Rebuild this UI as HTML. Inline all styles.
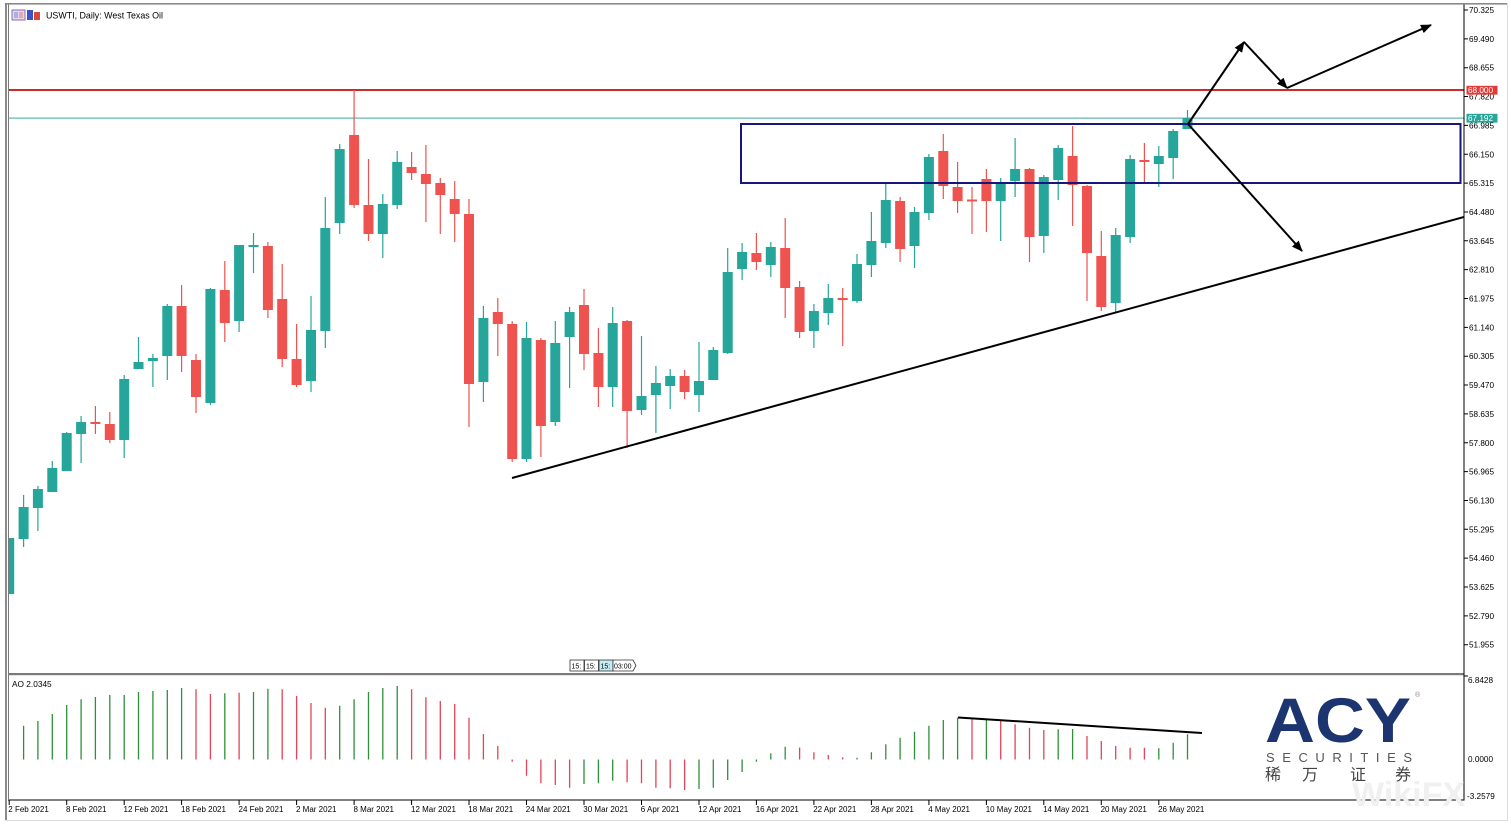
<!DOCTYPE html>
<html><head><meta charset="utf-8"><style>
html,body{margin:0;padding:0;background:#fff;}
svg{display:block;}
text{font-family:"Liberation Sans",sans-serif;}
</style></head><body>
<svg width="1511" height="824" viewBox="0 0 1511 824" xmlns="http://www.w3.org/2000/svg">
<defs>
<clipPath id="pc"><rect x="9" y="5" width="1455" height="668"/></clipPath>
<marker id="ah" markerWidth="11" markerHeight="9" refX="10" refY="4.5" orient="auto" markerUnits="userSpaceOnUse"><path d="M0,0 L11,4.5 L0,9 z" fill="#000"/></marker>
</defs>
<rect width="1511" height="824" fill="#fff"/>
<!-- frame -->
<rect x="5" y="3" width="1503" height="1.6" fill="#8a8a8a"/>
<rect x="5" y="3" width="2" height="818" fill="#8a8a8a"/>
<rect x="8" y="4" width="1" height="797" fill="#7a7a7a"/>
<rect x="1507" y="3" width="1" height="818" fill="#dcdcdc"/>
<rect x="5" y="820" width="1503" height="1" fill="#dcdcdc"/>

<!-- title -->
<rect x="12" y="10" width="13" height="10" fill="#e9d6ea" stroke="#8a6fb0" stroke-width="1"/>
<rect x="14" y="12" width="4" height="6" fill="#9fb3e8"/><rect x="19" y="12" width="4" height="6" fill="#e6a7b8"/>
<rect x="27" y="10" width="6" height="10" fill="#3b53c9"/><rect x="34" y="12" width="6" height="8" fill="#d9473a"/>
<text x="46" y="18.3" font-size="9" fill="#000" textLength="117" lengthAdjust="spacingAndGlyphs">USWTI, Daily:  West Texas Oil</text>

<!-- horizontal levels -->
<rect x="9" y="89" width="1455" height="2" fill="#cc2b2b"/>
<rect x="9" y="117.6" width="1455" height="1" fill="#3aa99e"/>

<g clip-path="url(#pc)">
<g fill="#26a69a">
<rect x="8.6" y="538" width="1.2" height="56"/><rect x="4.2" y="538" width="10" height="56"/>
<rect x="23.0" y="495" width="1.2" height="52"/><rect x="18.6" y="507" width="10" height="32"/>
<rect x="37.3" y="486" width="1.2" height="45"/><rect x="32.9" y="489" width="10" height="19"/>
<rect x="51.7" y="461" width="1.2" height="31"/><rect x="47.3" y="468" width="10" height="24"/>
<rect x="66.1" y="432" width="1.2" height="39"/><rect x="61.7" y="433" width="10" height="38"/>
<rect x="80.5" y="416" width="1.2" height="47"/><rect x="76.1" y="422" width="10" height="12"/>
<rect x="123.6" y="375" width="1.2" height="83"/><rect x="119.2" y="379" width="10" height="61"/>
<rect x="137.9" y="337" width="1.2" height="32"/><rect x="133.5" y="362" width="10" height="7"/>
<rect x="152.3" y="354" width="1.2" height="33"/><rect x="147.9" y="358" width="10" height="3"/>
<rect x="166.7" y="304" width="1.2" height="76"/><rect x="162.3" y="306" width="10" height="50"/>
<rect x="209.8" y="288" width="1.2" height="117"/><rect x="205.4" y="289" width="10" height="114"/>
<rect x="238.5" y="245" width="1.2" height="87"/><rect x="234.1" y="245" width="10" height="76"/>
<rect x="252.9" y="233" width="1.2" height="40"/><rect x="248.5" y="245" width="10" height="2"/>
<rect x="310.4" y="296" width="1.2" height="96"/><rect x="306.0" y="330" width="10" height="51"/>
<rect x="324.7" y="197" width="1.2" height="151"/><rect x="320.3" y="228" width="10" height="103"/>
<rect x="339.1" y="144" width="1.2" height="90"/><rect x="334.7" y="149" width="10" height="74"/>
<rect x="382.2" y="194" width="1.2" height="64"/><rect x="377.8" y="204" width="10" height="30"/>
<rect x="396.6" y="151" width="1.2" height="58"/><rect x="392.2" y="162" width="10" height="43"/>
<rect x="482.8" y="306" width="1.2" height="96"/><rect x="478.4" y="318" width="10" height="64"/>
<rect x="525.9" y="322" width="1.2" height="140"/><rect x="521.5" y="338" width="10" height="121"/>
<rect x="554.7" y="321" width="1.2" height="105"/><rect x="550.3" y="343" width="10" height="79"/>
<rect x="569.0" y="307" width="1.2" height="81"/><rect x="564.6" y="312" width="10" height="25"/>
<rect x="612.1" y="307" width="1.2" height="100"/><rect x="607.7" y="323" width="10" height="64"/>
<rect x="640.9" y="336" width="1.2" height="79"/><rect x="636.5" y="396" width="10" height="14"/>
<rect x="655.3" y="366" width="1.2" height="67"/><rect x="650.9" y="383" width="10" height="12"/>
<rect x="669.6" y="369" width="1.2" height="40"/><rect x="665.2" y="376" width="10" height="10"/>
<rect x="698.4" y="342" width="1.2" height="70"/><rect x="694.0" y="381" width="10" height="14"/>
<rect x="712.7" y="347" width="1.2" height="33"/><rect x="708.3" y="350" width="10" height="30"/>
<rect x="727.1" y="248" width="1.2" height="106"/><rect x="722.7" y="272" width="10" height="81"/>
<rect x="741.5" y="243" width="1.2" height="37"/><rect x="737.1" y="252" width="10" height="17"/>
<rect x="770.2" y="242" width="1.2" height="35"/><rect x="765.8" y="247" width="10" height="18"/>
<rect x="813.3" y="304" width="1.2" height="44"/><rect x="808.9" y="311" width="10" height="20"/>
<rect x="827.7" y="284" width="1.2" height="41"/><rect x="823.3" y="298" width="10" height="15"/>
<rect x="856.4" y="254" width="1.2" height="49"/><rect x="852.0" y="264" width="10" height="37"/>
<rect x="870.8" y="212" width="1.2" height="65"/><rect x="866.4" y="241" width="10" height="24"/>
<rect x="885.2" y="182" width="1.2" height="66"/><rect x="880.8" y="200" width="10" height="43"/>
<rect x="913.9" y="207" width="1.2" height="61"/><rect x="909.5" y="212" width="10" height="34"/>
<rect x="928.3" y="154" width="1.2" height="66"/><rect x="923.9" y="157" width="10" height="56"/>
<rect x="1000.1" y="178" width="1.2" height="63"/><rect x="995.7" y="183" width="10" height="18"/>
<rect x="1014.5" y="138" width="1.2" height="59"/><rect x="1010.1" y="169" width="10" height="12"/>
<rect x="1043.2" y="175" width="1.2" height="78"/><rect x="1038.8" y="177" width="10" height="59"/>
<rect x="1057.6" y="145" width="1.2" height="55"/><rect x="1053.2" y="148" width="10" height="32"/>
<rect x="1115.1" y="228" width="1.2" height="84"/><rect x="1110.7" y="235" width="10" height="68"/>
<rect x="1129.5" y="155" width="1.2" height="88"/><rect x="1125.1" y="159" width="10" height="78"/>
<rect x="1158.2" y="146" width="1.2" height="41"/><rect x="1153.8" y="156" width="10" height="8"/>
<rect x="1172.6" y="129" width="1.2" height="50"/><rect x="1168.2" y="131" width="10" height="27"/>
<rect x="1186.9" y="110" width="1.2" height="19"/><rect x="1182.5" y="118" width="10" height="11"/>
</g>
<g fill="#ef5350">
<rect x="94.8" y="406" width="1.2" height="28"/><rect x="90.4" y="422" width="10" height="2"/>
<rect x="109.2" y="412" width="1.2" height="31"/><rect x="104.8" y="424" width="10" height="16"/>
<rect x="181.0" y="285" width="1.2" height="87"/><rect x="176.6" y="306" width="10" height="50"/>
<rect x="195.4" y="354" width="1.2" height="59"/><rect x="191.0" y="360" width="10" height="37"/>
<rect x="224.2" y="261" width="1.2" height="81"/><rect x="219.8" y="290" width="10" height="33"/>
<rect x="267.3" y="242" width="1.2" height="76"/><rect x="262.9" y="246" width="10" height="64"/>
<rect x="281.6" y="264" width="1.2" height="103"/><rect x="277.2" y="299" width="10" height="60"/>
<rect x="296.0" y="324" width="1.2" height="63"/><rect x="291.6" y="359" width="10" height="26"/>
<rect x="353.5" y="90" width="1.2" height="118"/><rect x="349.1" y="135" width="10" height="70"/>
<rect x="367.9" y="159" width="1.2" height="82"/><rect x="363.5" y="205" width="10" height="29"/>
<rect x="411.0" y="152" width="1.2" height="28"/><rect x="406.6" y="167" width="10" height="6"/>
<rect x="425.3" y="145" width="1.2" height="77"/><rect x="420.9" y="174" width="10" height="10"/>
<rect x="439.7" y="178" width="1.2" height="56"/><rect x="435.3" y="183" width="10" height="12"/>
<rect x="454.1" y="181" width="1.2" height="61"/><rect x="449.7" y="199" width="10" height="15"/>
<rect x="468.4" y="199" width="1.2" height="228"/><rect x="464.0" y="214" width="10" height="170"/>
<rect x="497.2" y="298" width="1.2" height="58"/><rect x="492.8" y="312" width="10" height="12"/>
<rect x="511.6" y="321" width="1.2" height="141"/><rect x="507.2" y="324" width="10" height="135"/>
<rect x="540.3" y="338" width="1.2" height="119"/><rect x="535.9" y="340" width="10" height="86"/>
<rect x="583.4" y="289" width="1.2" height="81"/><rect x="579.0" y="305" width="10" height="49"/>
<rect x="597.8" y="328" width="1.2" height="79"/><rect x="593.4" y="353" width="10" height="34"/>
<rect x="626.5" y="320" width="1.2" height="128"/><rect x="622.1" y="321" width="10" height="90"/>
<rect x="684.0" y="370" width="1.2" height="29"/><rect x="679.6" y="376" width="10" height="16"/>
<rect x="755.8" y="233" width="1.2" height="37"/><rect x="751.4" y="253" width="10" height="9"/>
<rect x="784.6" y="218" width="1.2" height="100"/><rect x="780.2" y="248" width="10" height="40"/>
<rect x="799.0" y="281" width="1.2" height="57"/><rect x="794.6" y="287" width="10" height="45"/>
<rect x="842.1" y="288" width="1.2" height="58"/><rect x="837.7" y="298" width="10" height="2"/>
<rect x="899.5" y="197" width="1.2" height="65"/><rect x="895.1" y="201" width="10" height="48"/>
<rect x="942.7" y="134" width="1.2" height="65"/><rect x="938.3" y="151" width="10" height="35"/>
<rect x="957.0" y="162" width="1.2" height="51"/><rect x="952.6" y="187" width="10" height="14"/>
<rect x="971.4" y="187" width="1.2" height="47"/><rect x="967.0" y="199.5" width="10" height="2"/>
<rect x="985.8" y="169" width="1.2" height="63"/><rect x="981.4" y="179" width="10" height="22"/>
<rect x="1028.9" y="168" width="1.2" height="94"/><rect x="1024.5" y="169" width="10" height="68"/>
<rect x="1072.0" y="126" width="1.2" height="100"/><rect x="1067.6" y="156" width="10" height="29"/>
<rect x="1086.4" y="185" width="1.2" height="116"/><rect x="1082.0" y="186" width="10" height="67"/>
<rect x="1100.7" y="231" width="1.2" height="80"/><rect x="1096.3" y="256" width="10" height="51"/>
<rect x="1143.8" y="143" width="1.2" height="39"/><rect x="1139.4" y="160" width="10" height="2"/>
</g>

<!-- rectangle zone -->
<rect x="741" y="124" width="719.5" height="59" fill="none" stroke="#16167c" stroke-width="2"/>
<!-- trendline -->
<line x1="512" y1="478" x2="1464" y2="217" stroke="#000" stroke-width="2"/>
<!-- arrows -->
<g stroke="#000" stroke-width="2" fill="none">
<line x1="1188" y1="124" x2="1244" y2="42" marker-end="url(#ah)"/>
<line x1="1244" y1="42" x2="1287" y2="88" marker-end="url(#ah)"/>
<line x1="1287" y1="88" x2="1431" y2="25" marker-end="url(#ah)"/>
<line x1="1188" y1="124" x2="1302" y2="251" marker-end="url(#ah)"/>
</g>
</g>

<!-- period separator boxes -->
<g font-size="7" fill="#000">
<rect x="570" y="660" width="14" height="11" fill="#fff" stroke="#333" stroke-width="0.8"/><text x="571.5" y="668.5">15:</text>
<rect x="584.5" y="660" width="14" height="11" fill="#fff" stroke="#333" stroke-width="0.8"/><text x="586" y="668.5">15:</text>
<rect x="599" y="660" width="14" height="11" fill="#c5ecf2" stroke="#333" stroke-width="0.8"/><text x="600.5" y="668.5">15:</text>
<path d="M613 660 H633 L636 665.5 L633 671 H613 Z" fill="#fff" stroke="#333" stroke-width="0.8"/><text x="614" y="668.5">03:00</text>
</g>

<!-- separator between panels -->
<rect x="9" y="673" width="1455" height="2.2" fill="#7a7a7a"/>
<!-- axes -->
<rect x="1463.5" y="4.5" width="1" height="796" fill="#000"/>
<rect x="9" y="799.5" width="1455" height="1" fill="#000"/>

<!-- price axis -->
<g stroke="#000" stroke-width="1">
<path d="M1464 10H1468M1464 38.85H1468M1464 67.7H1468M1464 96.55H1468M1464 125.4H1468M1464 154.25H1468M1464 183.1H1468M1464 211.95H1468M1464 240.8H1468M1464 269.65H1468M1464 298.5H1468M1464 327.35H1468M1464 356.2H1468M1464 385.05H1468M1464 413.9H1468M1464 442.75H1468M1464 471.6H1468M1464 500.45H1468M1464 529.3H1468M1464 558.15H1468M1464 587H1468M1464 615.85H1468M1464 644.7H1468M1464 676H1468"/>
</g>
<g font-size="8.2" fill="#000">
<text x="1469" y="13">70.325</text>
<text x="1469" y="41.85">69.490</text>
<text x="1469" y="70.7">68.655</text>
<text x="1469" y="99.55">67.820</text>
<text x="1469" y="128.4">66.985</text>
<text x="1469" y="157.25">66.150</text>
<text x="1469" y="186.1">65.315</text>
<text x="1469" y="214.95">64.480</text>
<text x="1469" y="243.8">63.645</text>
<text x="1469" y="272.65">62.810</text>
<text x="1469" y="301.5">61.975</text>
<text x="1469" y="330.35">61.140</text>
<text x="1469" y="359.2">60.305</text>
<text x="1469" y="388.05">59.470</text>
<text x="1469" y="416.9">58.635</text>
<text x="1469" y="445.75">57.800</text>
<text x="1469" y="474.6">56.965</text>
<text x="1469" y="503.45">56.130</text>
<text x="1469" y="532.3">55.295</text>
<text x="1469" y="561.15">54.460</text>
<text x="1469" y="590">53.625</text>
<text x="1469" y="618.85">52.790</text>
<text x="1469" y="647.7">51.955</text>
<text x="1468" y="683">6.8428</text>
<text x="1468" y="762">0.0000</text>
<text x="1467" y="799">-3.2579</text>
</g>
<rect x="1466.5" y="85.8" width="31" height="8.8" fill="#e23a36"/>
<text x="1468" y="93" font-size="8.2" fill="#fff">68.000</text>
<rect x="1466.5" y="113.8" width="31" height="8.8" fill="#26a69a"/>
<text x="1468" y="121" font-size="8.2" fill="#fff">67.192</text>

<!-- AO -->
<text x="12" y="687" font-size="8.3" fill="#000">AO 2.0345</text>
<path fill="none" stroke="#2f8f3a" stroke-width="1.3" d="M23.6 759.5V725.7M37.9 759.5V721M52.3 759.5V714M66.7 759.5V705M81.1 759.5V699.3M95.4 759.5V697M109.8 759.5V695M124.2 759.5V695M138.5 759.5V692M152.9 759.5V691M167.3 759.5V690M181.6 759.5V688M224.8 759.5V693.3M253.5 759.5V692M267.9 759.5V688.7M339.7 759.5V705.7M354.1 759.5V699.3M368.5 759.5V692M382.8 759.5V688M397.2 759.5V686M584.0 759.5V784M598.4 759.5V783.3M612.7 759.5V780.7M699.0 759.5V789M713.3 759.5V787.7M727.7 759.5V780M742.1 759.5V772M756.4 759.5V761.7M770.8 759.5V753.3M785.2 759.5V746.7M857.0 759.5V757.7M871.4 759.5V752.3M885.8 759.5V744.3M900.1 759.5V737.7M914.5 759.5V731.7M928.9 759.5V725.7M943.3 759.5V720M957.6 759.5V717.7M986.4 759.5V720M1058.2 759.5V729.3M1072.6 759.5V729M1158.8 759.5V748.3M1173.2 759.5V742.7M1187.5 759.5V734.3"/>
<path fill="none" stroke="#e44457" stroke-width="1.3" d="M196.0 759.5V689.3M210.4 759.5V694M239.1 759.5V692.7M282.2 759.5V689.3M296.6 759.5V696M311.0 759.5V703M325.3 759.5V707.7M411.6 759.5V689.3M425.9 759.5V697.3M440.3 759.5V701M454.7 759.5V704M469.0 759.5V717.7M483.4 759.5V734M497.8 759.5V746M512.2 759.5V761.7M526.5 759.5V775.7M540.9 759.5V783.3M555.3 759.5V785M569.6 759.5V787.7M627.1 759.5V782.3M641.5 759.5V783.3M655.9 759.5V787.7M670.2 759.5V788.3M684.6 759.5V790M799.6 759.5V747.5M813.9 759.5V752.3M828.3 759.5V755M842.7 759.5V757.3M972.0 759.5V719M1000.7 759.5V721M1015.1 759.5V724.3M1029.5 759.5V727.7M1043.8 759.5V730M1087.0 759.5V736M1101.3 759.5V741M1115.7 759.5V746M1130.1 759.5V747.7M1144.4 759.5V747.7"/>
<line x1="958" y1="717.5" x2="1202" y2="733" stroke="#000" stroke-width="2"/>

<!-- date ticks & labels -->
<path stroke="#000" stroke-width="1" d="M9.2 800V805M66.7 800V805M124.2 800V805M181.6 800V805M239.1 800V805M296.6 800V805M354.1 800V805M411.6 800V805M469.0 800V805M526.5 800V805M584.0 800V805M641.5 800V805M699.0 800V805M756.4 800V805M813.9 800V805M871.4 800V805M928.9 800V805M986.4 800V805M1043.8 800V805M1101.3 800V805M1158.8 800V805"/>
<g font-size="8" fill="#000">
<text x="8.3" y="812">2 Feb 2021</text>
<text x="66" y="812">8 Feb 2021</text>
<text x="123.5" y="812">12 Feb 2021</text>
<text x="181" y="812">18 Feb 2021</text>
<text x="238.5" y="812">24 Feb 2021</text>
<text x="296" y="812">2 Mar 2021</text>
<text x="353.5" y="812">8 Mar 2021</text>
<text x="411" y="812">12 Mar 2021</text>
<text x="468.3" y="812">18 Mar 2021</text>
<text x="525.8" y="812">24 Mar 2021</text>
<text x="583.3" y="812">30 Mar 2021</text>
<text x="640.8" y="812">6 Apr 2021</text>
<text x="698.3" y="812">12 Apr 2021</text>
<text x="755.7" y="812">16 Apr 2021</text>
<text x="813.2" y="812">22 Apr 2021</text>
<text x="870.7" y="812">28 Apr 2021</text>
<text x="928.2" y="812">4 May 2021</text>
<text x="985.7" y="812">10 May 2021</text>
<text x="1043.1" y="812">14 May 2021</text>
<text x="1100.6" y="812">20 May 2021</text>
<text x="1158.1" y="812">26 May 2021</text>
</g>

<!-- watermark -->
<text x="1352" y="806" font-size="34" fill="#f0f0f0" font-weight="bold">WikiFX</text>

<!-- ACY logo -->
<text x="1265" y="742" font-size="63" font-weight="bold" fill="#1c3570" textLength="146" lengthAdjust="spacingAndGlyphs">ACY</text>
<text x="1415" y="697" font-size="7" fill="#888">®</text>
<text x="1266" y="762" font-size="13" fill="#555" textLength="146" lengthAdjust="spacing">SECURITIES</text>
<g font-family="'Liberation Sans','Noto Sans CJK SC',sans-serif" font-size="16" fill="#444">
<text x="1265" y="780" style="font-family:'Liberation Sans','Noto Sans CJK SC',sans-serif">稀</text>
<text x="1302" y="780" style="font-family:'Liberation Sans','Noto Sans CJK SC',sans-serif">万</text>
<text x="1350" y="780" style="font-family:'Liberation Sans','Noto Sans CJK SC',sans-serif">证</text>
<text x="1395" y="780" style="font-family:'Liberation Sans','Noto Sans CJK SC',sans-serif">券</text>
</g>
</svg>
</body></html>
